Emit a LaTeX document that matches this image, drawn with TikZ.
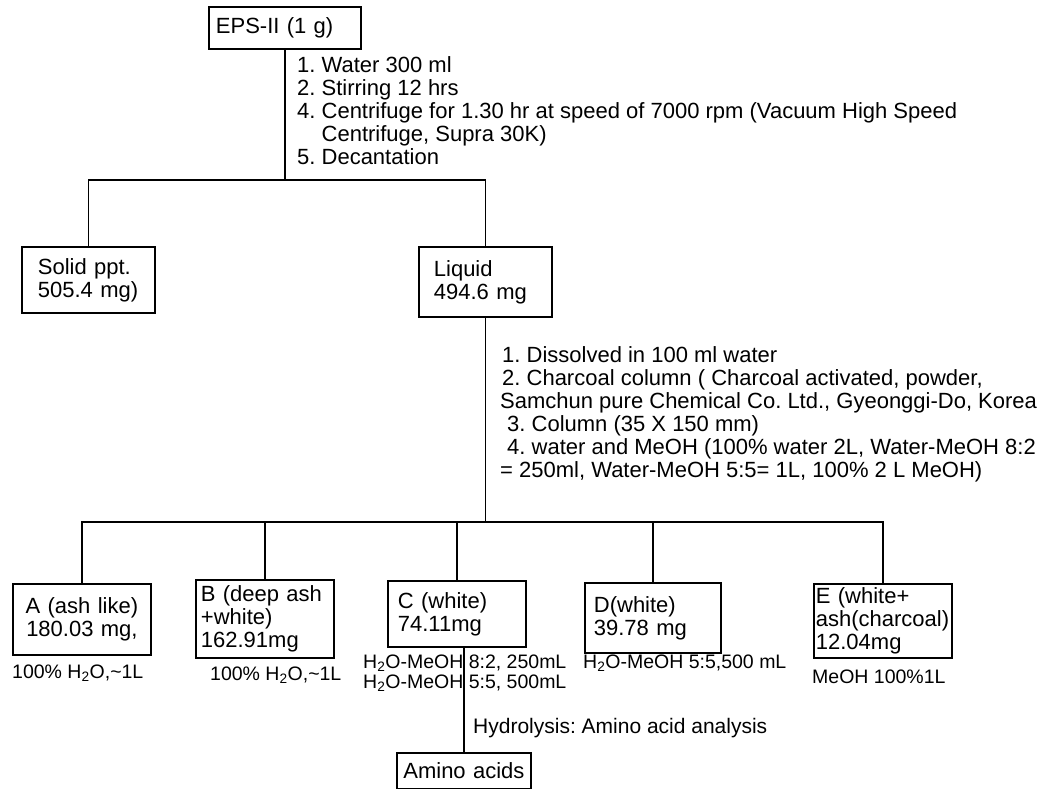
\documentclass[tikz,border=0pt]{standalone}
\usepackage{fontspec}
\setmainfont{Liberation Sans}
\usepackage{tikz}
\usetikzlibrary{positioning}
\frenchspacing
\newcommand{\boxfont}{\fontsize{22}{23}\selectfont}
\newcommand{\notefont}{\fontsize{19.5}{20}\selectfont}
\tikzset{
  boxnode/.style={draw, line width=1.8pt, anchor=north west, align=left, inner ysep=0pt, font=\boxfont},
  steps/.style={anchor=north west, align=left, inner sep=0pt, font=\boxfont},
  cond/.style={anchor=north west, align=left, inner sep=0pt, font=\notefont},
  link/.style={line width=1.8pt},
}

\begin{document}
\begin{tikzpicture}[x=1pt, y=-1pt]
  \useasboundingbox (0,0) rectangle (1041,789);

  % fractionation tree
  \node[boxnode, text width=138pt, inner xsep=7pt, minimum height=42pt] (eps) at (208,6) {EPS-II (1 g)};
  \node[boxnode, text width=101pt, inner xsep=16pt, minimum height=66pt] (solid) at (21,246) {Solid ppt.\\505.4 mg)};
  \node[boxnode, text width=103pt, inner xsep=15pt, minimum height=70pt] (liquid) at (418,246) {Liquid\\494.6 mg};

  \node[boxnode, align=center, text width=126pt, inner xsep=6pt, minimum height=71pt] (fracA) at (12,583) {A (ash like)\\180.03 mg,};
  \node[boxnode, text width=128pt, inner xsep=5pt, minimum height=78pt] (fracB) at (195,579) {B (deep ash\\+white)\\162.91mg};
  \node[boxnode, text width=118pt, inner xsep=10pt, minimum height=66pt] (fracC) at (387,580) {C (white)\\74.11mg};
  \node[boxnode, text width=118pt, inner xsep=9pt, minimum height=70pt] (fracD) at (584,582) {D(white)\\39.78 mg};
  \node[boxnode, text width=134pt, inner xsep=2pt, minimum height=74pt] (fracE) at (813,583) {E (white+\\ash(charcoal)\\12.04mg};
  \node[boxnode, align=center, text width=122pt, inner xsep=6pt, minimum height=36pt] (amino) at (396,752) {Amino acids};

  % procedure texts
  \node[steps] (stepsEps) at (297,56) {1. Water 300 ml\\2. Stirring 12 hrs\\4. Centrifuge for 1.30 hr at speed of 7000 rpm (Vacuum High Speed\\\hphantom{4. }Centrifuge, Supra 30K)\\5. Decantation};
  \node[steps] (stepsLiquid) at (500,346) {\hspace{2pt}1. Dissolved in 100 ml water\\\hspace{2pt}2. Charcoal column ( Charcoal activated, powder,\\Samchun pure Chemical Co. Ltd., Gyeonggi-Do, Korea\\\hspace{7pt}3. Column (35 X 150 mm)\\\hspace{7pt}4. water and MeOH (100\% water 2L, Water-MeOH 8:2\\= 250ml, Water-MeOH 5:5= 1L, 100\% 2 L MeOH)};
  \node[steps, font=\fontsize{21}{22}\selectfont] (hydro) at (473,718) {Hydrolysis: Amino acid analysis};

  \node[cond] (condA) at (12,665) {100\% H\textsubscript{2}O,\textasciitilde1L};
  \node[cond] (condB) at (210,667) {100\% H\textsubscript{2}O,\textasciitilde1L};
  \node[cond] (condC) at (363,655) {H\textsubscript{2}O-MeOH 8:2, 250mL\\H\textsubscript{2}O-MeOH 5:5, 500mL};
  \node[cond] (condD) at (583,655) {H\textsubscript{2}O-MeOH 5:5,500 mL};
  \node[cond] (condE) at (812,670) {MeOH 100\%1L};

  % connectors
  \coordinate (split1) at (eps.south |- 0,180);
  \coordinate (split2) at (liquid.south |- 0,522);
  \draw[link] (eps.south) -- (split1);
  \draw[link] (solid.north) |- (split1) -| (liquid.north);
  \draw[link] (liquid.south) -- (split2);
  \draw[link] (fracA.north) |- (split2) -| (fracE.north);
  \foreach \f in {fracB,fracC,fracD}
    \draw[link] (\f.north) -- (\f.north |- split2);
  \draw[link] (amino.north) -- (amino.north |- fracC.south);
\end{tikzpicture}
\end{document}
